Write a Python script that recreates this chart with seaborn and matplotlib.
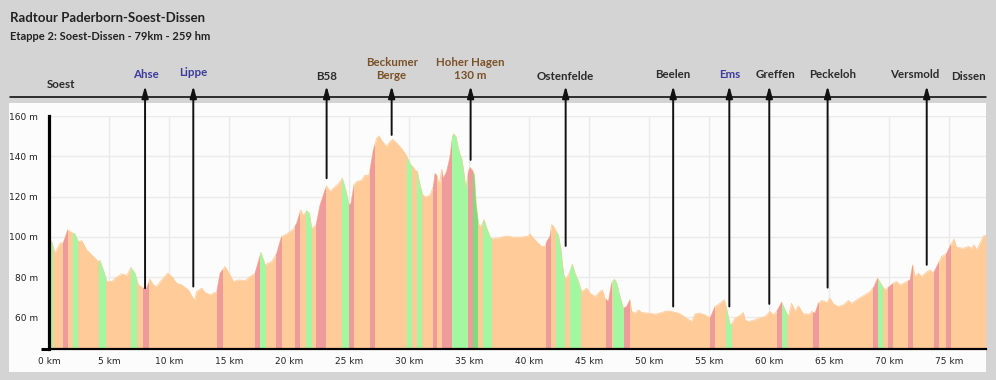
import matplotlib
matplotlib.use("Agg")
import matplotlib.pyplot as plt
import matplotlib.transforms as mtransforms
from matplotlib.patches import Rectangle
from matplotlib.lines import Line2D
import seaborn as sns
import pandas as pd

sns.set_theme(style="white")
plt.rcParams['font.family'] = ['Lato', 'DejaVu Sans']

# Hoehenprofil (km, m)
km = [0.0, 0.2, 0.47, 0.89, 1.17, 1.53, 1.86, 2.14, 2.42, 2.70, 3.11, 3.53, 4.09, 4.23, 4.64, 4.78,
      5.20, 5.48, 6.03, 6.45, 6.81, 7.14, 7.42, 7.84, 8.11, 8.39, 8.67, 8.95, 9.36, 9.86, 10.20,
      10.61, 11.03, 11.59, 12.09, 12.28, 12.70, 12.98, 13.39, 13.95, 14.23, 14.64, 15.06, 15.34,
      15.75, 16.31, 16.73, 17.14, 17.64, 17.98, 18.53, 18.95,
      19.22, 19.36, 19.78, 20.34, 20.61, 20.95, 21.17, 21.45, 21.67, 21.86, 22.0, 22.23, 22.56,
      22.98, 23.11, 23.39, 23.67, 24.09, 24.42, 24.70, 24.97, 25.14, 25.39, 25.61, 26.03, 26.31,
      26.50, 26.67, 27.00, 27.28, 27.47, 27.70, 28.11, 28.39, 28.61, 28.81, 29.22, 29.64, 29.92,
      30.14, 30.34, 30.48, 30.67, 30.89, 31.11, 31.39, 31.73, 32.00, 32.14, 32.28, 32.50, 32.70,
      32.84, 33.11, 33.39, 33.61, 33.72, 33.89, 34.09, 34.22, 34.36, 34.50, 34.72, 34.92, 35.06,
      35.28, 35.42, 35.56, 35.75, 35.89, 36.03, 36.23, 36.45, 36.78, 37.00, 37.56, 38.11, 38.67,
      39.36, 39.92, 40.06, 40.34, 40.75, 41.03, 41.31, 41.45, 41.73, 41.86, 42.0, 42.2, 42.42,
      42.64, 42.84, 42.98, 43.2, 43.39, 43.59, 43.81, 44.09, 44.36, 44.78, 45.06, 45.47, 45.89,
      46.09, 46.31, 46.59, 46.86, 47.09, 47.28, 47.56, 47.84, 48.11, 48.39, 48.53, 48.81, 49.09,
      49.36, 49.92, 50.48, 51.03, 51.45, 51.86, 52.42, 52.70, 53.11, 53.53, 53.81, 54.22, 54.64,
      55.06, 55.48, 55.89, 56.25, 56.45, 56.73, 56.92, 57.14, 57.42, 57.84, 57.98, 58.25, 58.81,
      59.09, 59.64, 60.06, 60.34, 60.61, 61.03, 61.31, 61.59, 61.86, 62.14, 62.42, 62.84, 63.39,
      63.53, 63.81, 64.09, 64.36, 64.78, 65.06, 65.34, 65.75, 66.17, 66.59, 66.86, 67.28, 67.84,
      68.39, 68.73, 69.03, 69.36, 69.64, 70.00, 70.34, 70.61, 70.89, 71.31, 71.73, 71.95, 72.14,
      72.42, 72.70, 73.11, 73.39, 73.67, 73.95, 74.36, 74.78, 75.06, 75.39, 75.61, 76.17, 76.59,
      76.86, 77.06, 77.28, 77.56, 77.84, 78.06]
hoehe = [98.8, 97.6, 91.8, 96.8, 97.1, 103.4, 102.1, 101.4, 97.6, 98.1, 93.5, 91.0, 87.7, 88.2, 81.1, 77.8,
         77.8, 79.4, 81.6, 80.8, 84.7, 81.9, 76.1, 74.5, 74.5, 78.9, 76.1, 75.3, 78.6, 81.9, 80.3,
         77.0, 76.1, 73.6, 68.4, 72.8, 74.5, 72.3, 71.2, 72.8, 81.9, 85.2, 81.1, 77.8,
         78.6, 78.3, 80.3, 81.9, 92.3, 86.1, 87.7, 91.8,
         97.6, 100.1, 101.4, 103.8, 106.7, 113.3, 110.4, 113.0, 111.7, 104.3, 104.7, 105.9, 115.8,
         123.3, 125.3, 122.4, 124.1, 126.3, 129.1, 123.3, 115.8, 116.7, 125.8, 127.4, 128.2, 130.7,
         130.2, 131.5, 143.1, 148.9, 150.1, 147.8, 144.8, 147.3, 148.4, 147.3, 144.8, 141.5, 138.2,
         135.7, 134.5, 133.2, 132.4, 125.8, 120.8, 119.6, 120.8, 124.9, 131.5, 130.7, 125.8, 133.5,
         129.1, 132.4, 139.8, 150.1, 151.1, 149.7, 144.0, 141.1, 139.0, 134.0, 123.3, 132.4, 134.5,
         132.9, 130.7, 116.7, 106.7, 105.1, 105.9, 108.4, 104.3, 99.3, 99.0, 99.6, 100.4, 99.8,
         99.8, 100.4, 101.4, 99.3, 96.8, 95.2, 95.2, 97.6, 100.4, 105.9, 105.4, 103.1, 100.9,
         93.5, 81.9, 79.4, 80.3, 82.7, 86.4, 81.9, 77.8, 72.8, 74.5, 72.0, 70.3, 72.8,
         73.6, 69.5, 67.9, 77.0, 78.9, 77.3, 70.3, 64.5, 65.4, 68.7, 62.9, 62.1, 63.7,
         62.4, 62.1, 61.6, 62.4, 63.2, 62.9, 62.1, 61.2, 59.6, 57.9, 61.7, 62.1, 61.2,
         59.6, 65.4, 67.0, 68.7, 64.1, 56.3, 57.1, 59.6, 60.4, 62.4, 58.8, 57.9, 58.8,
         59.6, 60.4, 62.9, 61.2, 62.9, 67.5, 63.7, 60.4, 67.0, 62.9, 65.7, 61.7, 61.7,
         62.9, 62.1, 67.0, 68.4, 67.4, 69.5, 66.7, 65.4, 66.2, 68.4, 67.0, 68.7, 70.7,
         72.8, 75.3, 79.4, 76.1, 73.6, 75.3, 77.0, 77.8, 76.1, 77.3, 78.6, 86.1, 80.3,
         81.9, 80.3, 82.4, 83.6, 81.9, 85.2, 90.2, 91.8, 95.5, 98.8, 94.8, 94.3, 95.2,
         94.3, 96.0, 93.5, 96.8, 100.4, 100.8]

# Steigung (rot) / Gefaelle (gruen) Abschnitte in km
anstieg = [(1.17, 1.58), (7.83, 8.31), (14.0, 14.45), (17.14, 17.6), (18.9, 19.4), (20.5, 20.9),
           (22.2, 23.06), (25.0, 25.42), (26.7, 27.14), (31.95, 32.33), (32.75, 33.58), (34.92, 35.33),
           (41.37, 41.81), (46.37, 46.87), (47.89, 48.39), (55.06, 55.48), (60.62, 61.03),
           (63.62, 64.14), (68.62, 69.03), (69.87, 70.28), (71.53, 71.95), (73.75, 74.17), (74.72, 75.14)]
gefaelle = [(0.0, 0.33), (2.0, 2.42), (4.17, 4.72), (6.8, 7.33), (17.6, 18.03), (21.37, 21.87),
            (24.37, 25.0), (29.84, 30.25), (30.67, 31.03), (33.58, 34.92), (36.17, 36.87),
            (42.2, 42.98), (43.39, 44.28), (46.95, 47.89), (56.39, 56.87), (61.03, 61.5), (69.03, 69.5)]
gefaelle_steil = [(35.33, 35.75)]

# Orte / Fluesse / Berge
orte = ['Soest', 'Ahse', 'Lippe', 'B58', 'Beckumer\nBerge', 'Hoher Hagen\n130 m', 'Ostenfelde',
        'Beelen', 'Ems', 'Greffen', 'Peckeloh', 'Versmold', 'Dissen']
orte_km = [0.96, 7.98, 12.0, 23.11, 28.53, 35.11, 43.03, 51.99, 56.67, 60.0, 64.86, 73.12, 76.6]
orte_ende = [None, 74.5, 75.3, 129.1, 150.6, 138.2, 95.5, 65.4, 65.4, 66.7, 74.8, 86.1, None]
orte_typ = ['ort', 'fluss', 'fluss', 'ort', 'berg', 'berg', 'ort', 'ort', 'fluss', 'ort', 'ort', 'ort', 'ort']

x_ticks = list(range(0, 80, 5))
y_ticks = list(range(60, 161, 20))

df = pd.DataFrame({'km': km, 'hoehe': hoehe})

W, H = 996, 380
fig = plt.figure(figsize=(W / 100, H / 100), dpi=100, facecolor='#d4d4d4')
fig.patches.append(Rectangle((9 / W, 1 - 372 / H), (986 - 9) / W, (372 - 103) / H,
                             transform=fig.transFigure, facecolor='#fcfcfc', edgecolor='none', zorder=-5))
ax = fig.add_axes([49.3 / W, 1 - 349 / H, (986 - 49.3) / W, (349 - 116) / H])
ax.set_zorder(2)
ax.set_facecolor('#fcfcfc')

poly = ax.fill_between(df['km'], df['hoehe'], 0, color='#ffcc99', lw=0, zorder=2)
sns.lineplot(data=df, x='km', y='hoehe', color='#ffcc99', lw=0.6, ax=ax, zorder=2)
clip = poly.get_paths()[0]
for bands, col in [(anstieg, '#f09b9b'), (gefaelle, '#a3f7a0'), (gefaelle_steil, '#7edb7e')]:
    for a, b in bands:
        r = ax.axvspan(a, b, color=col, lw=0, zorder=3)
        r.set_clip_path(clip, ax.transData)

ax.set_xlim(0, 78.06)
ax.set_ylim(44.3, 160)
ax.set_xticks(x_ticks)
ax.set_xticklabels([f'{t} km' for t in x_ticks])
ax.set_yticks(y_ticks)
ax.set_yticklabels([f'{t} m' for t in y_ticks])
ax.set_xticks([0], minor=True)
ax.set_yticks([44.3, 160], minor=True)
ax.set_xlabel('')
ax.set_ylabel('')
ax.grid(True, which='major', color='#ebebeb', lw=1)
ax.set_axisbelow(True)
ax.tick_params(axis='both', which='major', length=0, labelsize=6.5, labelcolor='#222222')
ax.tick_params(axis='y', which='major', pad=8)
ax.tick_params(axis='x', which='major', pad=6)
ax.tick_params(axis='x', which='minor', bottom=True, length=3.5, width=1.5, color='black', direction='out')
ax.tick_params(axis='y', which='minor', left=True, length=5.5, width=2.2, color='black', direction='out')
for lbl in ax.get_xticklabels() + ax.get_yticklabels():
    lbl.set_fontfamily('DejaVu Sans')
for s in ['top', 'right']:
    ax.spines[s].set_visible(False)
ax.spines['left'].set_color('black')
ax.spines['left'].set_linewidth(2.3)
ax.spines['bottom'].set_color('black')
ax.spines['bottom'].set_linewidth(1.6)
for s in ['left', 'bottom']:
    ax.spines[s].set_zorder(5)

# Kopf
fig.text(10 / W, 1 - 18 / H, 'Radtour Paderborn-Soest-Dissen', fontsize=9.5, fontweight='bold',
         color='#222222', va='center', ha='left')
fig.text(10 / W, 1 - 37 / H, 'Etappe 2: Soest-Dissen - 79km - 259 hm', fontsize=8, fontweight='bold',
         color='#222222', va='center', ha='left')
fig.add_artist(Line2D([10 / W, 986 / W], [1 - 97 / H] * 2, color='black', lw=1.1))

farben = {'ort': '#2b2b2b', 'fluss': '#3c3c9e', 'berg': '#7b5128'}
label_y = {'Soest': 85, 'B58': 77, 'Dissen': 77, 'Ostenfelde': 76, 'Lippe': 73, 'Beelen': 74, 'Ems': 74}
label_dx = {'Greffen': 6, 'Peckeloh': 5.5, 'Versmold': -12.5, 'Ahse': 1}  # px
trans = mtransforms.blended_transform_factory(ax.transData, fig.transFigure)
for name, k, ende, typ in zip(orte, orte_km, orte_ende, orte_typ):
    y = 69 if '\n' in name else label_y.get(name, 75)
    ax.annotate(name, xy=(k, 1 - y / H), xycoords=trans,
                xytext=(label_dx.get(name, 0) * 0.72, 0), textcoords='offset points',
                ha='center', va='center', fontsize=8.3, fontweight='bold',
                color=farben[typ], linespacing=1.3, annotation_clip=False)
    if ende is not None:
        ax.annotate('', xy=(k, 1 - 86 / H), xycoords=trans, xytext=(k, ende), textcoords='data',
                    arrowprops=dict(arrowstyle='-|>,head_length=1.0,head_width=0.28', color='#111111',
                                    lw=1.4, shrinkA=0, shrinkB=0, mutation_scale=7),
                    annotation_clip=False, zorder=6)

fig.savefig('out.png', dpi=100, facecolor=fig.get_facecolor())
